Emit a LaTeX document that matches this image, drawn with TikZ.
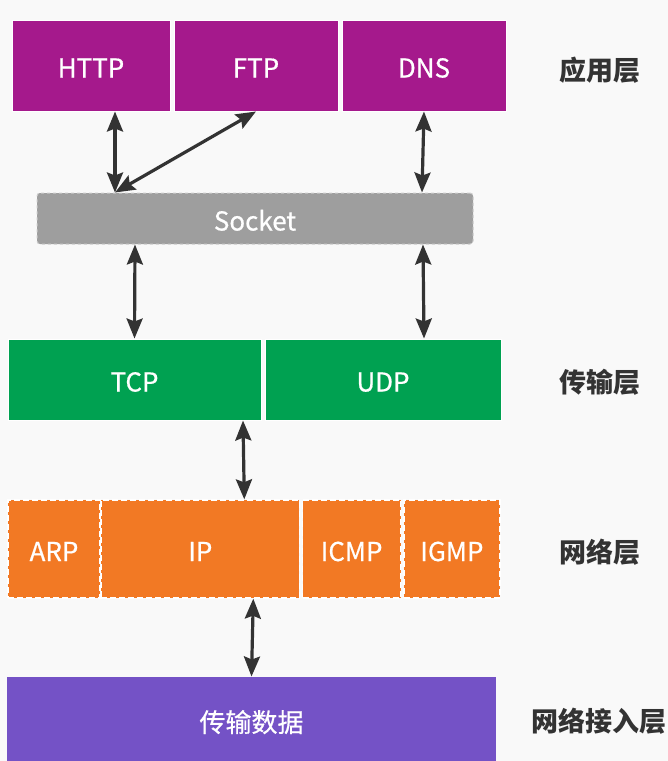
\documentclass[tikz,border=0pt]{standalone}
\usepackage{fontspec}
\setmainfont{Noto Sans CJK SC}
\newfontfamily\boxfont{Noto Sans CJK SC}[FakeBold=0.6]
\usepackage{xcolor}
\usepackage{tikz}
\usetikzlibrary{arrows.meta, positioning}
\definecolor{bgGray}{RGB}{249, 249, 249}
\definecolor{appMag}{RGB}{165, 25, 140}
\definecolor{sockGray}{RGB}{158, 158, 158}
\definecolor{tranGreen}{RGB}{0, 161, 81}
\definecolor{netOrange}{RGB}{242, 121, 36}
\definecolor{linkPurple}{RGB}{116, 82, 198}
\definecolor{inkDark}{RGB}{51, 51, 51}

\tikzset{
  layerbox/.style={draw=white, line width=1pt, inner sep=0pt, text=white,
                   text height=24pt, text depth=0pt,
                   font=\boxfont\fontsize{26}{28}\selectfont},
  appbox/.style={layerbox, fill=appMag, minimum height=91pt},
  tranbox/.style={layerbox, fill=tranGreen, minimum height=81pt},
  netbox/.style={layerbox, fill=netOrange, dashed, dash pattern=on 6pt off 3pt,
                 line width=1.3pt, minimum height=98pt},
  layername/.style={text=inkDark, font=\fontsize{27}{30}\selectfont\bfseries},
  biarrow/.style={draw=inkDark, line width=3.2pt,
                  >={Stealth[length=20pt, width=16pt, inset=3pt]}, <->}
}

\begin{document}
\begin{tikzpicture}[x=1pt, y=1pt]
  \fill[bgGray] (0,0) rectangle (668,-761);
  \useasboundingbox (0,0) rectangle (668,-761);

  % application layer
  \node[appbox, minimum width=158pt] (http) at (91,-65.5) {HTTP};
  \node[appbox, minimum width=164pt, right=3pt of http] (ftp) {FTP};
  \node[appbox, minimum width=164pt, right=3pt of ftp] (dns) {DNS};

  \node[layerbox, draw=black!20, dashed, rounded corners=3pt, fill=sockGray,
        minimum width=436pt, minimum height=51pt] (socket) at (255,-218.5) {Socket};

  % transport layer
  \node[tranbox, minimum width=253pt] (tcp) at (134.5,-379.5) {TCP};
  \node[tranbox, minimum width=236pt, right=3pt of tcp] (udp) {UDP};

  % network layer
  \node[netbox, minimum width=92pt] (arp) at (54,-549) {ARP};
  \node[netbox, minimum width=198pt, right=0pt of arp] (ip) {IP};
  \node[netbox, minimum width=98pt, right=2pt of ip] (icmp) {ICMP};
  \node[netbox, minimum width=96pt, right=2pt of icmp] (igmp) {IGMP};

  \node[layerbox, draw=none, fill=linkPurple, minimum width=489pt, minimum height=86pt]
       (data) at (251.5,-720) {传输数据};

  \node[layername] (l4) at (600,-70) {应用层};
  \node[layername] (l3) at (600,-382) {传输层};
  \node[layername] (l2) at (600,-552) {网络层};
  \node[layername] (l1) at (599,-721) {网络接入层};

  \draw[biarrow] ([xshift=24pt]http.south) -- ([xshift=-140pt]socket.north);
  \draw[biarrow] (ftp.south) -- ([xshift=-140pt]socket.north);
  \draw[biarrow] (dns.south) -- ([xshift=167pt]socket.north);
  \draw[biarrow] ([xshift=-120pt]socket.south) -- (tcp.north);
  \draw[biarrow] ([xshift=168pt]socket.south) -- ([xshift=41pt]udp.north);
  \draw[biarrow] ([xshift=108.5pt]tcp.south) -- ([xshift=44pt]ip.north);
  \draw[biarrow] ([xshift=53pt]ip.south) -- (data.north);
\end{tikzpicture}
\end{document}
